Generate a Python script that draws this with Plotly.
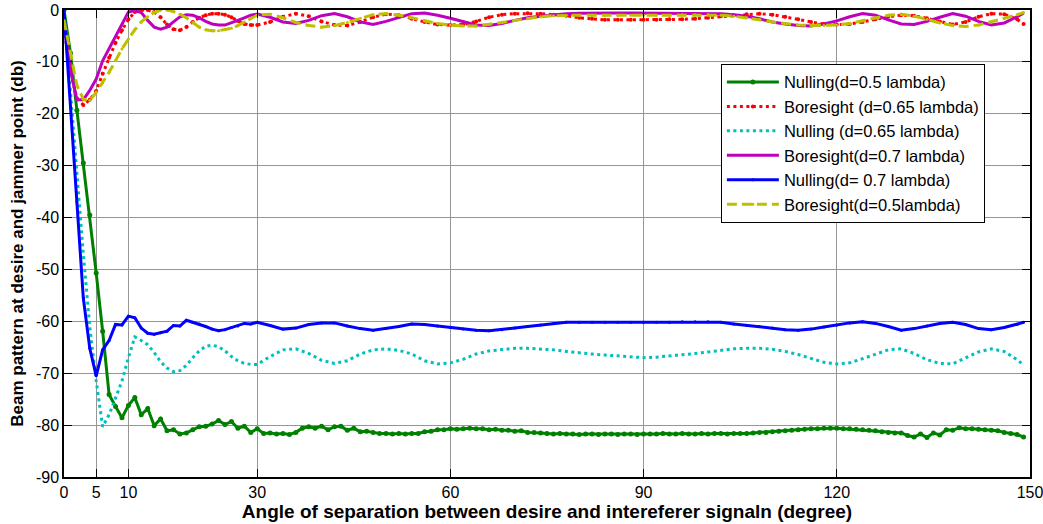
import plotly.graph_objects as go

# ---- angles (degrees) ----
angle_all = list(range(0, 150))                                   # 1-degree grid
angle_smooth = list(range(0, 31)) + list(range(32, 149, 2)) + [149]

# ---- Nulling, d = 0.5 lambda (1-degree samples) ----
null_050 = [
    0.0, -8.3, -19.3, -29.5, -39.5, -50.7, -61.9, -74.1, -76.4, -78.6,
    -76.2, -74.7, -78.0, -76.8, -80.1, -78.8, -81.1, -80.9, -81.7, -81.5,
    -80.9, -80.3, -80.2, -79.8, -79.1, -79.9, -79.3, -80.6, -80.2, -81.4,
    -80.7, -81.6, -81.5, -81.7, -81.6, -81.8, -81.4, -80.6, -80.3, -80.6,
    -80.2, -80.9, -80.3, -80.2, -81.0, -80.6, -81.3, -81.2, -81.4, -81.6,
    -81.6, -81.7, -81.6, -81.7, -81.6, -81.6, -81.3, -81.2, -80.9, -80.9,
    -80.7, -80.8, -80.7, -80.6, -80.7, -80.7, -80.9, -80.8, -81.0, -81.0,
    -81.2, -81.1, -81.4, -81.4, -81.5, -81.6, -81.7, -81.6, -81.7, -81.7,
    -81.8, -81.7, -81.7, -81.8, -81.7, -81.7, -81.8, -81.7, -81.7, -81.8,
    -81.7, -81.7, -81.7, -81.6, -81.7, -81.7, -81.6, -81.7, -81.7, -81.6,
    -81.7, -81.6, -81.6, -81.7, -81.6, -81.6, -81.6, -81.5, -81.4, -81.4,
    -81.3, -81.2, -81.1, -81.0, -80.9, -80.8, -80.7, -80.7, -80.6, -80.6,
    -80.6, -80.7, -80.7, -80.8, -80.9, -81.0, -81.1, -81.3, -81.4, -81.5,
    -81.5, -82.0, -82.3, -81.7, -82.4, -81.5, -81.9, -80.9, -81.0, -80.5,
    -80.7, -80.7, -80.8, -80.9, -81.0, -81.1, -81.4, -81.6, -81.8, -82.3,
]

# ---- Nulling, d = 0.7 lambda ----
null_070 = [
    0.0, -18.5, -37.0, -55.5, -65.2, -70.5, -65.5, -63.7, -60.6, -60.7,
    -59.0, -59.3, -61.3, -62.3, -62.5, -62.2, -61.9, -60.8, -60.9, -59.8,
    -60.2, -60.5, -61.0, -61.5, -61.8, -61.6, -61.2, -60.9, -60.4, -60.5, -60.2,
    -60.8, -61.5, -61.3, -60.6, -60.3, -60.3, -60.9, -61.4, -61.7, -61.4,
    -61.0, -60.5, -60.6, -60.9, -61.2, -61.5, -61.7, -61.8, -61.6, -61.3,
    -61.0, -60.7, -60.4, -60.2, -60.2, -60.2, -60.2, -60.2, -60.2, -60.2,
    -60.2, -60.2, -60.1, -60.1, -60.1, -60.2, -60.5, -60.8, -61.0, -61.3,
    -61.6, -61.7, -61.5, -61.1, -60.7, -60.3, -60.1, -60.4, -61.0, -61.7,
    -61.4, -60.9, -60.4, -60.2, -60.6, -61.4, -61.6, -61.2, -60.6, -60.2,
]

# ---- Nulling, d = 0.65 lambda ----
null_065 = [
    0.0, -16.0, -31.0, -47.0, -61.0, -71.5, -80.3, -78.0, -74.8, -71.5,
    -67.0, -63.0, -63.7, -64.5, -66.0, -67.8, -69.0, -69.7, -69.5, -68.5,
    -67.0, -65.7, -64.8, -64.6, -64.9, -65.7, -66.8, -67.6, -68.1, -68.3, -68.3,
    -66.8, -65.5, -65.3, -66.2, -67.5, -68.1, -67.6, -66.3, -65.5, -65.3,
    -65.6, -66.3, -67.6, -68.2, -68.0, -67.3, -66.3, -65.7, -65.4, -65.2,
    -65.2, -65.3, -65.5, -65.8, -66.1, -66.3, -66.5, -66.7, -66.9, -67.0,
    -66.9, -66.7, -66.5, -66.2, -65.9, -65.6, -65.3, -65.2, -65.2, -65.4,
    -65.8, -66.4, -67.2, -67.9, -68.2, -68.0, -67.2, -66.3, -65.5, -65.3,
    -66.2, -67.4, -68.1, -68.2, -67.1, -65.9, -65.3, -65.8, -67.4, -68.4,
]

# ---- Boresight, d = 0.7 lambda ----
bore_070 = [
    -2.5, -11.4, -17.3, -17.3, -15.5, -13.3, -9.8, -7.5, -5.0, -2.6,
    -0.4, -0.1, -0.5, -2.0, -3.3, -3.7, -3.3, -2.3, -1.3, -0.9,
    -1.0, -1.5, -2.2, -2.7, -2.9, -2.9, -2.5, -2.0, -1.5, -1.0, -0.8,
    -1.4, -2.3, -2.6, -2.0, -1.1, -0.7, -1.3, -2.3, -2.8, -2.2,
    -1.4, -0.7, -0.6, -1.0, -1.6, -2.3, -2.9, -3.0, -2.6, -2.0,
    -1.5, -1.2, -0.9, -0.7, -0.65, -0.6, -0.6, -0.6, -0.6, -0.6,
    -0.6, -0.6, -0.6, -0.6, -0.6, -0.7, -0.9, -1.2, -1.7, -2.3,
    -2.7, -3.0, -3.1, -2.7, -2.1, -1.3, -0.7, -1.0, -1.9, -2.7,
    -2.8, -2.2, -1.4, -0.7, -1.2, -2.2, -2.9, -2.5, -1.3, -0.6,
]

# ---- Boresight, d = 0.65 lambda ----
bore_065 = [
    -3.5, -12.0, -17.0, -18.3, -17.3, -15.6, -12.3, -9.2, -6.3, -3.9,
    -1.8, -0.4, 0.0, 0.0, -0.4, -1.4, -2.8, -3.7, -3.9, -3.3,
    -2.3, -1.5, -1.0, -0.7, -0.7, -0.9, -1.4, -2.1, -2.7, -2.9, -2.9,
    -2.3, -1.3, -0.7, -1.2, -2.2, -2.9, -3.0, -2.3, -1.4, -0.8,
    -1.0, -1.7, -2.3, -2.8, -2.9, -2.8, -2.2, -1.4, -0.9, -0.7,
    -0.65, -0.7, -0.9, -1.1, -1.5, -1.7, -1.9, -1.9, -1.9, -1.9,
    -1.9, -1.8, -1.8, -1.7, -1.5, -1.2, -1.0, -0.8, -0.7, -0.9,
    -1.3, -1.8, -2.3, -2.7, -2.8, -2.7, -2.3, -1.8, -1.3, -1.0,
    -1.1, -1.6, -2.2, -2.8, -2.3, -1.3, -0.7, -0.8, -1.8, -2.7,
]

# ---- Boresight, d = 0.5 lambda ----
bore_050 = [
    -2.0, -8.3, -14.5, -17.2, -17.4, -15.9, -14.0, -12.0, -9.8, -7.5,
    -5.6, -3.8, -2.3, -1.3, -0.5, 0.0, 0.0, -0.3, -0.8, -1.5,
    -2.4, -3.3, -3.8, -4.0, -4.0, -3.8, -3.5, -3.0, -2.3, -1.6, -1.0,
    -0.8, -1.5, -2.4, -3.0, -3.3, -3.0, -2.4, -1.6, -0.9, -0.7,
    -1.0, -1.5, -2.1, -2.6, -2.9, -3.1, -3.1, -2.8, -2.4, -2.0,
    -1.6, -1.3, -1.1, -1.0, -1.0, -1.0, -1.0, -1.0, -1.0, -1.0,
    -1.0, -1.0, -0.9, -0.9, -0.9, -1.0, -1.2, -1.5, -1.9, -2.3,
    -2.6, -2.9, -3.0, -3.0, -2.9, -2.6, -2.1, -1.5, -1.0, -0.8,
    -1.2, -1.8, -2.5, -3.0, -3.2, -2.9, -2.3, -1.6, -0.9, -0.5,
]

x_ticks = [0, 5, 10, 30, 60, 90, 120, 150]
y_ticks = list(range(-90, 1, 10))

GREEN = "rgb(0,128,0)"
RED = "rgb(255,0,0)"
CYAN = "rgb(0,191,191)"
MAGENTA = "rgb(191,0,191)"
BLUE = "rgb(0,0,255)"
OLIVE = "rgb(191,191,0)"

DOTS = "3px,3.5px"
DASHES = "10px,5px"

series = [
    ("Nulling(d=0.5 lambda)", angle_all, null_050, GREEN, "solid", 5),
    ("Boresight (d=0.65 lambda)", angle_smooth, bore_065, RED, DOTS, 4),
    ("Nulling (d=0.65 lambda)", angle_smooth, null_065, CYAN, DOTS, 0),
    ("Boresight(d=0.7 lambda)", angle_smooth, bore_070, MAGENTA, "solid", 0),
    ("Nulling(d= 0.7 lambda)", angle_smooth, null_070, BLUE, "solid", 3),
    ("Boresight(d=0.5lambda)", angle_smooth, bore_050, OLIVE, DASHES, 3),
]

fig = go.Figure()
for i, (name, xs, ys, color, dash, msize) in enumerate(series):
    fig.add_trace(go.Scatter(
        x=xs, y=ys, name=name, legendgroup=f"g{i}",
        mode="lines+markers" if msize else "lines",
        line=dict(color=color, width=3, dash=dash),
        marker=dict(color=color, size=msize, symbol="circle"),
    ))

FONT = "Liberation Sans, Arial"

axis_common = dict(
    showline=True, linecolor="black", linewidth=1.5, mirror="ticks",
    ticks="inside", ticklen=8, tickwidth=1.2, tickcolor="black",
    showgrid=True, gridcolor="rgb(150,150,150)", gridwidth=1,
    zeroline=False, automargin=False, ticklabeloverflow="allow",
    tickfont=dict(family=FONT, size=16, color="black"),
)

fig.update_xaxes(
    range=[0, 150], tickvals=x_ticks, ticktext=[str(v) for v in x_ticks],
    title=dict(text="<b>Angle of separation between desire and intereferer signaln (degree)</b>",
               font=dict(family=FONT, size=19, color="black"),
               standoff=2),
    **axis_common,
)
fig.update_yaxes(
    range=[-90, 0], tickvals=y_ticks, ticktext=[str(v) for v in y_ticks],
    title=dict(text="<b>Beam pattern at desire and jammer point (db)</b>",
               font=dict(family=FONT, size=17, color="black"),
               standoff=8),
    **axis_common,
)

fig.update_layout(
    width=1043, height=524,
    margin=dict(l=64, r=13, t=10, b=47),
    paper_bgcolor="white", plot_bgcolor="white",
    font=dict(family=FONT, color="black"),
    showlegend=True,
    legend=dict(
        x=0.680, y=0.885, xanchor="left", yanchor="top",
        bgcolor="white", bordercolor="black", borderwidth=1,
        font=dict(family=FONT, size=16.5, color="black"),
        tracegroupgap=0, traceorder="normal", itemwidth=52,
        entrywidth=222, entrywidthmode="pixels",
    ),
)

fig.write_html("out.html")
